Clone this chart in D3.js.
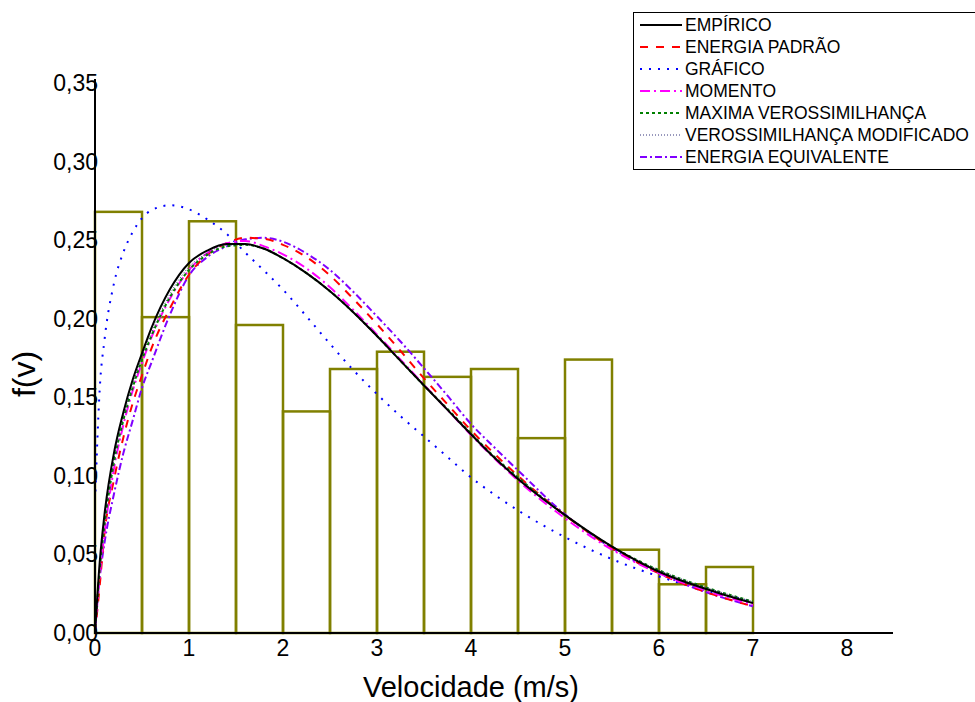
<!DOCTYPE html>
<html>
<head>
<meta charset="utf-8">
<script src="https://cdn.jsdelivr.net/npm/d3@7"></script>
<style>
  html, body { margin: 0; padding: 0; background: #fff; }
  svg { display: block; font-family: "Liberation Sans", Arial, sans-serif; }
</style>
</head>
<body>
<svg id="chart" width="975" height="702"></svg>
<script>
// ---------- DATA ----------
const binStarts = [0, 0.5, 1, 1.5, 2, 2.5, 3, 3.5, 4, 4.5, 5, 5.5, 6, 6.5];
const binWidth = 0.5;
const histValues = [0.268, 0.201, 0.262, 0.196, 0.141, 0.168, 0.179, 0.163, 0.168, 0.124, 0.174, 0.053, 0.031, 0.042];

const velocidades = [0, 0.05, 0.1, 0.2, 0.3, 0.4, 0.5, 0.6, 0.8, 1.0, 1.2, 1.4, 1.6, 1.8, 2.0, 2.25, 2.5, 2.75, 3.0, 3.25, 3.5, 3.75, 4.0, 4.25, 4.5, 5.0, 5.5, 6.0, 6.5, 7.0];
const empirico       = [0, 0.045, 0.075, 0.114, 0.140, 0.161, 0.178, 0.194, 0.219, 0.2355, 0.2435, 0.2475, 0.2475, 0.2445, 0.2385, 0.2290, 0.2175, 0.2040, 0.1890, 0.1732, 0.1575, 0.142, 0.1265, 0.1115, 0.098, 0.075, 0.055, 0.039, 0.028, 0.019];
const energiaPadrao  = [0, 0.030, 0.063, 0.097, 0.124, 0.146, 0.164, 0.181, 0.207, 0.228, 0.241, 0.248, 0.2515, 0.2508, 0.247, 0.2392, 0.2275, 0.2125, 0.1965, 0.1795, 0.162, 0.1455, 0.129, 0.114, 0.100, 0.075, 0.054, 0.038, 0.026, 0.017];
const momento        = [0, 0.036, 0.063, 0.104, 0.132, 0.154, 0.172, 0.188, 0.213, 0.231, 0.242, 0.248, 0.2495, 0.246, 0.241, 0.2320, 0.2200, 0.2055, 0.1900, 0.1740, 0.158, 0.142, 0.126, 0.111, 0.097, 0.073, 0.053, 0.038, 0.027, 0.018];
const maximaVeross   = [0, 0.040, 0.068, 0.108, 0.135, 0.156, 0.174, 0.189, 0.214, 0.231, 0.241, 0.246, 0.247, 0.2445, 0.2385, 0.2290, 0.2175, 0.2040, 0.1890, 0.1732, 0.1575, 0.1425, 0.127, 0.112, 0.099, 0.075, 0.055, 0.040, 0.029, 0.020];
const verossModif    = [0, 0.042, 0.071, 0.110, 0.137, 0.158, 0.176, 0.191, 0.216, 0.233, 0.242, 0.247, 0.247, 0.2445, 0.2385, 0.2290, 0.2175, 0.2040, 0.1890, 0.1732, 0.1575, 0.1425, 0.127, 0.112, 0.099, 0.075, 0.055, 0.040, 0.029, 0.020];
const energiaEquiv   = [0, 0.035, 0.057, 0.088, 0.114, 0.135, 0.156, 0.172, 0.203, 0.2275, 0.2395, 0.246, 0.2505, 0.2515, 0.249, 0.2415, 0.2310, 0.2170, 0.2015, 0.1855, 0.1685, 0.151, 0.1330, 0.118, 0.1035, 0.0755, 0.054, 0.038, 0.026, 0.017];

const velocidadesGrafico = [0.005, 0.02, 0.05, 0.1, 0.2, 0.3, 0.4, 0.5, 0.6, 0.8, 1.0, 1.2, 1.4, 1.6, 1.8, 2.0, 2.25, 2.5, 2.75, 3.0, 3.25, 3.5, 3.75, 4.0, 4.25, 4.5, 5.0, 5.5, 6.0, 6.5, 7.0];
const grafico = [0.090, 0.115, 0.155, 0.186, 0.222, 0.242, 0.255, 0.264, 0.269, 0.2722, 0.2696, 0.263, 0.254, 0.242, 0.2305, 0.2185, 0.2015, 0.184, 0.1672, 0.152, 0.138, 0.125, 0.112, 0.099, 0.088, 0.078, 0.061, 0.047, 0.036, 0.027, 0.020];

const xTicks = [0, 1, 2, 3, 4, 5, 6, 7, 8];
const yTicks = [0, 0.05, 0.10, 0.15, 0.20, 0.25, 0.30, 0.35];

const seriesNames = ["EMPÍRICO", "ENERGIA PADRÃO", "GRÁFICO", "MOMENTO", "MAXIMA VEROSSIMILHANÇA", "VEROSSIMILHANÇA MODIFICADO", "ENERGIA EQUIVALENTE"];

// ---------- STYLES ----------
const styles = [
  { color: "#000000", dash: null,           width: 2 },
  { color: "#ff0000", dash: "8,8",          width: 2 },
  { color: "#0000ff", dash: "2,7",          width: 2 },
  { color: "#ff00ff", dash: "10,4,2,4",     width: 2 },
  { color: "#008000", dash: "3,3",          width: 2 },
  { color: "#33337a", dash: "1,2",          width: 1 },
  { color: "#8000ff", dash: "7,3,2,3",      width: 2 }
];

const seriesData = [
  { x: velocidades, y: empirico },
  { x: velocidades, y: energiaPadrao },
  { x: velocidadesGrafico, y: grafico },
  { x: velocidades, y: momento },
  { x: velocidades, y: maximaVeross },
  { x: velocidades, y: verossModif },
  { x: velocidades, y: energiaEquiv }
];

// ---------- CHART ----------
const svg = d3.select("#chart");
const x = d3.scaleLinear().domain([0, 8]).range([95, 847]);
const y = d3.scaleLinear().domain([0, 0.35]).range([633, 83]);
const olive = "#808000";

// Histogram
svg.append("g").selectAll("rect")
  .data(binStarts.map((b, i) => ({ b, v: histValues[i] })))
  .join("rect")
  .attr("x", d => x(d.b))
  .attr("y", d => y(d.v))
  .attr("width", d => x(d.b + binWidth) - x(d.b))
  .attr("height", d => y(0) - y(d.v))
  .attr("fill", "none")
  .attr("stroke", olive)
  .attr("stroke-width", 2.5);

// Curves (draw order: back to front)
const line = d3.line().curve(d3.curveMonotoneX);
const order = [2, 6, 1, 3, 4, 5, 0];
order.forEach(i => {
  const s = seriesData[i];
  const pts = s.x.map((v, j) => [x(v), y(s.y[j])]);
  svg.append("path")
    .attr("d", line(pts))
    .attr("fill", "none")
    .attr("stroke", styles[i].color)
    .attr("stroke-width", styles[i].width)
    .attr("stroke-dasharray", styles[i].dash)
    .attr("stroke-linecap", "butt");
});

// Axes
svg.append("line")
  .attr("x1", x(0)).attr("x2", 893)
  .attr("y1", y(0)).attr("y2", y(0))
  .attr("stroke", "#000").attr("stroke-width", 2);
svg.append("line")
  .attr("x1", x(0)).attr("x2", x(0))
  .attr("y1", y(0) + 1).attr("y2", 79)
  .attr("stroke", "#000").attr("stroke-width", 2);

const fmt = v => d3.format(".2f")(v).replace(".", ",");
svg.append("g").selectAll("text")
  .data(yTicks).join("text")
  .attr("x", 98)
  .attr("y", d => y(d))
  .attr("dy", "0.35em")
  .attr("text-anchor", "end")
  .attr("font-size", 23)
  .attr("fill", "#000")
  .text(fmt);

svg.append("g").selectAll("text")
  .data(xTicks).join("text")
  .attr("x", d => x(d))
  .attr("y", 656)
  .attr("text-anchor", "middle")
  .attr("font-size", 23)
  .attr("fill", "#000")
  .text(d => d);

svg.append("text")
  .attr("x", 471).attr("y", 697)
  .attr("text-anchor", "middle")
  .attr("font-size", 29)
  .attr("fill", "#000")
  .text("Velocidade (m/s)");

svg.append("text")
  .attr("transform", "translate(35,374) rotate(-90)")
  .attr("text-anchor", "middle")
  .attr("font-size", 32)
  .attr("fill", "#000")
  .text("f(v)");

// Legend
const lg = svg.append("g");
lg.append("rect")
  .attr("x", 633.5).attr("y", 12.5)
  .attr("width", 345).attr("height", 157)
  .attr("fill", "#fff").attr("stroke", "#000").attr("stroke-width", 1);
seriesNames.forEach((name, i) => {
  const yy = 25 + i * 22;
  lg.append("line")
    .attr("x1", 640).attr("x2", 682)
    .attr("y1", yy).attr("y2", yy)
    .attr("stroke", styles[i].color)
    .attr("stroke-width", styles[i].width)
    .attr("stroke-dasharray", styles[i].dash);
  lg.append("text")
    .attr("x", 685).attr("y", yy)
    .attr("dy", "0.36em")
    .attr("font-size", 17.5)
    .attr("fill", "#000")
    .text(name);
});
</script>
</body>
</html>
